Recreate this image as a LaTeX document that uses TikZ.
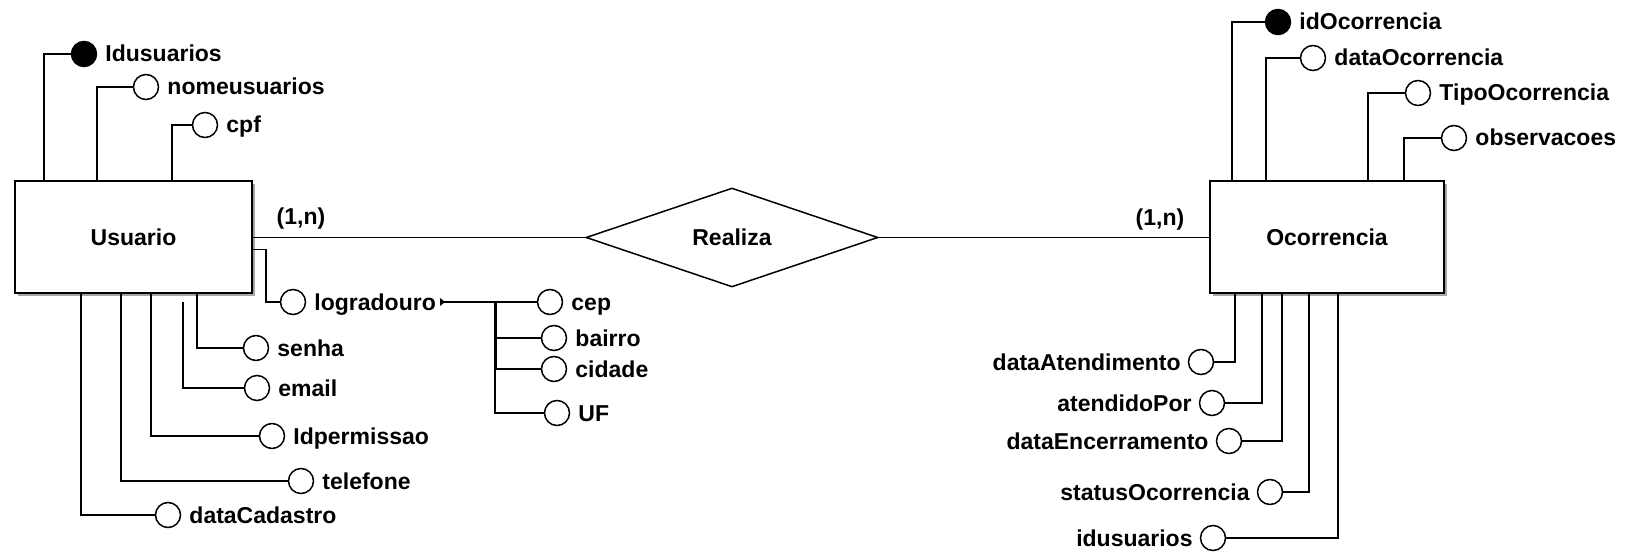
\documentclass[tikz,border=0pt]{standalone}
\usepackage{fontspec}
\setmainfont{Liberation Sans}
\usetikzlibrary{shapes.geometric,shadows}
\begin{document}
\begin{tikzpicture}[x=1pt,y=-1pt,
  conn/.style={line width=1.6pt},
  attr/.style={circle,draw,line width=1.5pt,minimum size=25pt,inner sep=0pt,fill=white},
  keyattr/.style={attr,fill=black},
  lbl/.style={inner sep=0pt,font=\fontsize{23}{27}\selectfont\bfseries},
  entity/.style={rectangle,draw,line width=2pt,fill=white,minimum height=112pt,inner sep=0pt,
    font=\fontsize{23}{27}\selectfont\bfseries,
    drop shadow={shadow xshift=3pt,shadow yshift=-3pt,opacity=1,fill=gray!70}},
  relbox/.style={diamond,draw,line width=1.5pt,fill=white,aspect=2.9,minimum width=292pt,
    minimum height=99pt,inner sep=0pt,font=\fontsize{23}{27}\selectfont\bfseries}]
\useasboundingbox (0,0) rectangle (1641,553);

% entities and relationship
\node[entity,minimum width=237pt] (u) at (133.5,237.5) {Usuario};
\node[entity,minimum width=234pt] (oc) at (1327,237.5) {Ocorrencia};
\node[relbox] (r) at (732,237.5) {Realiza};
\node[lbl] (card1) at (301,219) {(1,n)};
\node[lbl] (card2) at (1160,220) {(1,n)};
\draw[conn] (u.east) -- (r.west);
\draw[conn] (r.east) -- (oc.west);

% Usuario attributes (labels to the right)
\node[keyattr] (a1) at (84,54) {};
\node[attr] (a2) at (146,87) {};
\node[attr] (a3) at (205,125) {};
\node[attr] (a4) at (293,302) {};
\node[attr] (a5) at (256,348) {};
\node[attr] (a6) at (257,388) {};
\node[attr] (a7) at (272,436) {};
\node[attr] (a8) at (301,481) {};
\node[attr] (a9) at (168,515) {};
\node[lbl,anchor=base west] (t1) at ([xshift=8pt,yshift=-8pt]a1.east) {Idusuarios};
\node[lbl,anchor=base west] (t2) at ([xshift=8pt,yshift=-8pt]a2.east) {nomeusuarios};
\node[lbl,anchor=base west] (t3) at ([xshift=8pt,yshift=-8pt]a3.east) {cpf};
\node[lbl,anchor=base west] (t4) at ([xshift=8pt,yshift=-8pt]a4.east) {logradouro};
\node[lbl,anchor=base west] (t5) at ([xshift=8pt,yshift=-8pt]a5.east) {senha};
\node[lbl,anchor=base west] (t6) at ([xshift=8pt,yshift=-8pt]a6.east) {email};
\node[lbl,anchor=base west] (t7) at ([xshift=8pt,yshift=-8pt]a7.east) {Idpermissao};
\node[lbl,anchor=base west] (t8) at ([xshift=8pt,yshift=-8pt]a8.east) {telefone};
\node[lbl,anchor=base west] (t9) at ([xshift=8pt,yshift=-8pt]a9.east) {dataCadastro};

\draw[conn] (a1.west) -| ([xshift=30pt]u.north west);
\draw[conn] (a2.west) -| ([xshift=83pt]u.north west);
\draw[conn] (a3.west) -| ([xshift=158pt]u.north west);
\draw[conn] ([yshift=-12pt]u.east) -| ([xshift=-14pt]a4.west) -- (a4.west);
\draw[conn] ([xshift=183pt]u.south west) |- (a5.west);
\draw[conn] ([xshift=169pt,yshift=-8pt]u.south west) |- (a6.west);
\draw[conn] ([xshift=137pt]u.south west) |- (a7.west);
\draw[conn] ([xshift=107pt]u.south west) |- (a8.west);
\draw[conn] ([xshift=67pt]u.south west) |- (a9.west);

% composite attribute logradouro
\node[attr] (c1) at (550,302) {};
\node[attr] (c2) at (554,338) {};
\node[attr] (c3) at (554,369) {};
\node[attr] (c4) at (557,413) {};
\node[lbl,anchor=base west] (tc1) at ([xshift=8pt,yshift=-8pt]c1.east) {cep};
\node[lbl,anchor=base west] (tc2) at ([xshift=8pt,yshift=-8pt]c2.east) {bairro};
\node[lbl,anchor=base west] (tc3) at ([xshift=8pt,yshift=-8pt]c3.east) {cidade};
\node[lbl,anchor=base west] (tc4) at ([xshift=8pt,yshift=-8pt]c4.east) {UF};
\coordinate (lgtip) at ([xshift=4pt]a4.center -| t4.east);
\coordinate (j) at (495,302);
\fill (lgtip) ++(0,-4) -- ++(5,4) -- ++(-5,4) -- cycle;
\draw[conn] (lgtip) -- (c1.west);
\draw[line width=3pt] (j) -- (j |- c3.west);
\draw[conn] (j |- c3.west) -- (j |- c4.west) -- (c4.west);
\draw[conn] (j |- c2.west) -- (c2.west);
\draw[conn] (j |- c3.west) -- (c3.west);

% Ocorrencia attributes, top (labels right)
\node[keyattr] (o1) at (1278,22) {};
\node[attr] (o2) at (1313,58) {};
\node[attr] (o3) at (1418,93) {};
\node[attr] (o4) at (1454,138) {};
\node[lbl,anchor=base west] (s1) at ([xshift=8pt,yshift=-8pt]o1.east) {idOcorrencia};
\node[lbl,anchor=base west] (s2) at ([xshift=8pt,yshift=-8pt]o2.east) {dataOcorrencia};
\node[lbl,anchor=base west] (s3) at ([xshift=8pt,yshift=-8pt]o3.east) {TipoOcorrencia};
\node[lbl,anchor=base west] (s4) at ([xshift=8pt,yshift=-8pt]o4.east) {observacoes};
\draw[conn] (o1.west) -| ([xshift=23pt]oc.north west);
\draw[conn] (o2.west) -| ([xshift=57pt]oc.north west);
\draw[conn] (o3.west) -| ([xshift=159pt]oc.north west);
\draw[conn] (o4.west) -| ([xshift=195pt]oc.north west);

% Ocorrencia attributes, bottom (labels left)
\node[attr] (o5) at (1201,362) {};
\node[attr] (o6) at (1212,403) {};
\node[attr] (o7) at (1229,441) {};
\node[attr] (o8) at (1270,492) {};
\node[attr] (o9) at (1213,538) {};
\node[lbl,anchor=base east] (s5) at ([xshift=-7pt,yshift=-8pt]o5.west) {dataAtendimento};
\node[lbl,anchor=base east] (s6) at ([xshift=-7pt,yshift=-8pt]o6.west) {atendidoPor};
\node[lbl,anchor=base east] (s7) at ([xshift=-7pt,yshift=-8pt]o7.west) {dataEncerramento};
\node[lbl,anchor=base east] (s8) at ([xshift=-7pt,yshift=-8pt]o8.west) {statusOcorrencia};
\node[lbl,anchor=base east] (s9) at ([xshift=-7pt,yshift=-8pt]o9.west) {idusuarios};
\draw[conn] ([xshift=26pt]oc.south west) |- (o5.east);
\draw[conn] ([xshift=53pt]oc.south west) |- (o6.east);
\draw[conn] ([xshift=73pt]oc.south west) |- (o7.east);
\draw[conn] ([xshift=100pt]oc.south west) |- (o8.east);
\draw[conn] ([xshift=129pt]oc.south west) |- (o9.east);
\end{tikzpicture}
\end{document}
